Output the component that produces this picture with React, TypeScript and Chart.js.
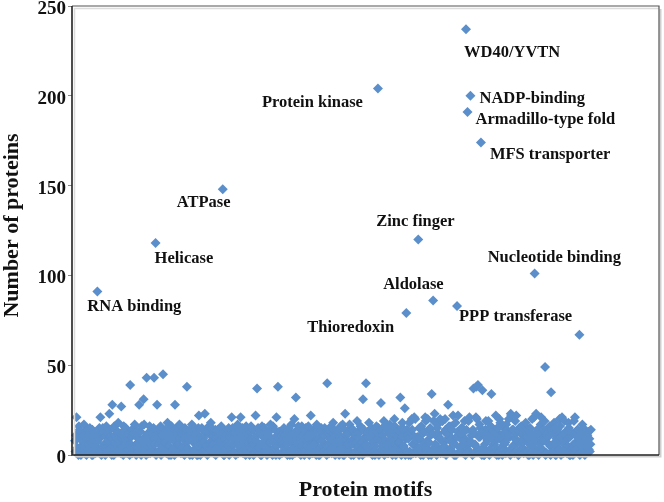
import { useEffect, useRef } from 'react';
import { Chart, registerables } from 'chart.js';

Chart.register(...registerables);

// Number of proteins per protein motif. Motifs are stored in three interleaved
// groups: motif order is A[0], B[0], C[0], A[1], B[1], C[1], ...
const motifCountsA: number[] = [
  8, 21, 3, 14, 0, 10, 17, 5, 12, 2, 15, 7, 0, 11, 4, 91, 9, 21, 1, 13,
  6, 16, 3, 23, 10, 28, 0, 14, 8, 18, 2, 27, 11, 5, 15, 1, 9, 39, 4, 12,
  17, 0, 7, 28, 13, 3, 31, 10, 43, 1, 16, 6, 12, 43, 118, 28, 2, 14, 8, 45,
  4, 11, 18, 0, 9, 15, 3, 28, 12, 6, 17, 1, 10, 14, 5, 38, 8, 0, 13, 16,
  3, 11, 7, 22, 0, 15, 9, 23, 2, 13, 6, 18, 10, 1, 14, 4, 12, 8, 16, 148,
  0, 11, 5, 15, 3, 21, 9, 13, 1, 17, 7, 21, 2, 10, 14, 4, 12, 0, 16, 8,
  6, 22, 37, 3, 13, 0, 10, 15, 5, 12, 1, 17, 8, 3, 14, 21, 38, 0, 11, 6,
  15, 2, 9, 13, 0, 17, 7, 20, 32, 4, 12, 1, 16, 8, 3, 14, 10, 0, 22, 6,
  13, 2, 17, 9, 0, 15, 5, 11, 3, 40, 14, 7, 1, 18, 10, 4, 13, 0, 16, 8,
  3, 23, 11, 6, 17, 0, 14, 9, 2, 19, 12, 5, 15, 31, 1, 40, 10, 18, 4, 13,
  7, 0, 16, 204, 11, 29, 3, 19, 8, 14, 1, 17, 10, 5, 20, 0, 13, 7, 32, 15,
  3, 26, 79, 11, 18, 0, 14, 6, 20, 9, 120, 2, 16, 12, 4, 19, 8, 0, 15, 34,
  86, 23, 5, 17, 10, 1, 19, 7, 20, 13, 28, 3, 16, 9, 0, 18, 83, 11, 4, 15,
  8, 19, 237, 191, 2, 200, 13, 37, 6, 38, 39, 17, 174, 36, 0, 14, 9, 19, 3, 34,
  11, 6, 22, 15, 0, 18, 8, 12, 3, 17, 10, 1, 23, 14, 5, 19, 7, 0, 13, 16,
  4, 11, 18, 2, 9, 15, 6, 0, 101, 23, 12, 3, 17, 8, 14, 49, 1, 10, 16, 35,
  5, 18, 0, 13, 7, 16, 2, 11, 19, 4, 9, 15, 0, 12, 6, 21, 3, 14, 67, 8,
  17, 1, 10, 5, 13, 2,
];

const motifCountsB: number[] = [
  2, 9, 0, 13, 5, 11, 1, 7, 14, 3, 10, 0, 6, 12, 4, 8, 15, 1, 11, 5,
  0, 13, 7, 3, 10, 1, 16, 6, 9, 2, 12, 4, 0, 14, 8, 3, 11, 6, 1, 15,
  5, 10, 2, 13, 0, 8, 17, 4, 11, 7, 1, 14, 3, 9, 0, 12, 6, 16, 2, 10,
  7, 1, 13, 5, 0, 11, 8, 3, 15, 6, 2, 12, 9, 0, 14, 4, 10, 1, 17, 7,
  3, 12, 0, 9, 6, 14, 2, 11, 5, 1, 16, 8, 4, 13, 0, 10, 7, 3, 15, 2,
  9, 4, 14, 0, 11, 6, 2, 13, 8, 1, 10, 5, 15, 3, 0, 12, 7, 4, 9, 14,
  1, 8, 11, 4, 0, 16, 6, 2, 12, 9, 3, 14, 0, 7, 10, 5, 1, 13, 8, 2,
  11, 4, 0, 15, 7, 3, 12, 1, 9, 6, 14, 0, 5, 11, 2, 8, 16, 4, 10, 1,
  6, 13, 3, 0, 10, 8, 2, 15, 5, 12, 1, 9, 4, 14, 0, 7, 11, 3, 6, 17,
  0, 9, 5, 12, 2, 8, 14, 1, 11, 4, 0, 16, 7, 3, 10, 6, 13, 2, 9, 0,
  12, 5, 1, 15, 8, 3, 11, 0, 17, 6, 2, 13, 9, 4, 16, 1, 10, 7, 3, 18,
  5, 0, 14, 9, 2, 12, 6, 21, 1, 10, 4, 15, 8, 0, 13, 3, 20, 7, 11, 2,
  19, 6, 0, 12, 9, 3, 19, 5, 14, 1, 11, 8, 2, 22, 6, 0, 13, 10, 4, 15,
  1, 9, 14, 3, 21, 7, 0, 12, 5, 20, 2, 10, 13, 4, 0, 19, 8, 11, 3, 15,
  6, 1, 13, 9, 20, 4, 0, 11, 7, 14, 2, 10, 22, 5, 1, 12, 8, 0, 15, 3,
  9, 14, 2, 7, 0, 12, 20, 4, 10, 1, 13, 6, 21, 3, 8, 0, 11, 15, 5, 2,
  12, 7, 0, 14, 3, 10, 21, 1, 8, 13, 5, 0, 11, 4, 19, 6, 2, 9, 0, 12,
  4, 8, 1, 11, 3, 6,
];

const motifCountsC: number[] = [
  11, 4, 16, 1, 8, 3, 13, 0, 6, 10, 2, 14, 9, 1, 7, 12, 3, 0, 15, 6,
  10, 2, 8, 14, 0, 5, 11, 3, 13, 7, 1, 9, 16, 2, 6, 12, 0, 10, 14, 4,
  1, 13, 9, 5, 16, 2, 7, 0, 12, 4, 10, 3, 15, 6, 1, 9, 13, 0, 11, 5,
  14, 8, 2, 10, 16, 3, 0, 12, 6, 9, 13, 4, 1, 15, 7, 11, 2, 14, 0, 9,
  12, 0, 15, 4, 10, 2, 7, 13, 0, 16, 3, 11, 6, 1, 9, 14, 2, 12, 5, 0,
  13, 7, 1, 10, 4, 15, 12, 0, 6, 14, 3, 11, 1, 8, 16, 2, 9, 13, 3, 0,
  10, 3, 15, 12, 6, 1, 13, 9, 0, 11, 7, 2, 16, 4, 0, 10, 13, 6, 1, 14,
  5, 12, 14, 1, 10, 0, 4, 13, 6, 16, 2, 9, 11, 0, 15, 5, 1, 12, 3, 14,
  10, 0, 8, 15, 4, 12, 11, 6, 0, 2, 9, 16, 12, 1, 7, 13, 3, 15, 10, 0,
  14, 4, 12, 1, 15, 6, 0, 11, 7, 13, 9, 3, 0, 14, 5, 12, 2, 10, 15, 4,
  2, 13, 9, 0, 14, 11, 5, 16, 3, 1, 12, 8, 0, 15, 6, 11, 4, 13, 0, 10,
  14, 9, 2, 0, 13, 20, 1, 10, 8, 3, 15, 0, 12, 6, 21, 4, 1, 14, 0, 12,
  4, 11, 15, 2, 20, 8, 1, 13, 0, 9, 16, 3, 14, 7, 0, 10, 22, 2, 12, 6,
  13, 0, 5, 19, 8, 11, 14, 1, 21, 3, 10, 15, 0, 12, 6, 2, 14, 0, 16, 9,
  13, 4, 0, 15, 2, 11, 16, 6, 1, 12, 20, 0, 3, 14, 9, 22, 2, 15, 6, 11,
  1, 16, 10, 0, 13, 5, 2, 21, 8, 14, 0, 11, 3, 9, 19, 1, 12, 6, 0, 14,
  2, 15, 9, 4, 20, 0, 11, 6, 13, 1, 18, 10, 3, 0, 12, 7, 14, 1, 11, 5,
  15, 0, 12, 6, 9, 14,
];

// Named motifs: index into motifCountsA
const labeledIndices: number[] = [15, 54, 99, 203, 262, 265, 263, 272, 230, 240, 222, 256, 308];
const labeledNames: string[] = [
  'RNA binding', 'Helicase', 'ATPase', 'Protein kinase', 'WD40/YVTN', 'NADP-binding',
  'Armadillo-type fold', 'MFS transporter', 'Zinc finger', 'Aldolase', 'Thioredoxin',
  'PPP transferase', 'Nucleotide binding',
];
// Label placement relative to its point (pixels)
const labelDx: number[] = [-10, -1, -46, -116, -2, 9, 8, 9, -42, -50, -99, 2, -47];
const labelDy: number[] = [15, 16, 14, 14, 23, 3, 8, 12, -18, -16, 15, 11, -16];

const yTicks: number[] = [0, 50, 100, 150, 200, 250];
const xTitle = 'Protein motifs';
const yTitle = 'Number of proteins';

const SERIF = '"Liberation Serif", "Times New Roman", serif';
const BLUE = '#5B8FCB';

export default function App() {
  const ref = useRef<HTMLCanvasElement | null>(null);

  useEffect(() => {
    if (!ref.current) return;

    const groups = [motifCountsA, motifCountsB, motifCountsC];
    const points: { x: number; y: number }[] = [];
    motifCountsA.forEach((_, i) => {
      groups.forEach((g, k) => {
        points.push({ x: i * 3 + k, y: g[i] });
      });
    });

    const decorPlugin = {
      id: 'decor',
      afterDatasetsDraw(chart: any) {
        const { ctx, chartArea } = chart;
        const { left, top, right, bottom } = chartArea;
        ctx.save();
        // shadow
        ctx.strokeStyle = '#cfcfcf';
        ctx.lineWidth = 2;
        ctx.beginPath();
        ctx.moveTo(right + 1.5, top + 3);
        ctx.lineTo(right + 1.5, bottom + 1.5);
        ctx.lineTo(left + 3, bottom + 1.5);
        ctx.stroke();
        ctx.beginPath();
        ctx.moveTo(left + 2.5, bottom);
        ctx.lineTo(left + 2.5, top + 2.5);
        ctx.lineTo(right, top + 2.5);
        ctx.strokeStyle = '#dcdcdc';
        ctx.lineWidth = 1.5;
        ctx.stroke();
        // frame
        ctx.lineWidth = 1.2;
        ctx.strokeStyle = '#555';
        ctx.beginPath();
        ctx.moveTo(left, top);
        ctx.lineTo(right, top);
        ctx.lineTo(right, bottom);
        ctx.stroke();
        ctx.lineWidth = 1.6;
        ctx.strokeStyle = '#222';
        ctx.beginPath();
        ctx.moveTo(left, top);
        ctx.lineTo(left, bottom);
        ctx.lineTo(right, bottom);
        ctx.stroke();

        // motif labels
        const meta = chart.getDatasetMeta(0);
        ctx.fillStyle = '#111';
        ctx.font = `bold 16.5px ${SERIF}`;
        ctx.textAlign = 'left';
        ctx.textBaseline = 'middle';
        labeledIndices.forEach((idx, k) => {
          const pt = meta.data[idx * 3];
          if (!pt) return;
          ctx.fillText(labeledNames[k], pt.x + labelDx[k], pt.y + labelDy[k]);
        });

        // axis titles
        ctx.font = `bold 22px ${SERIF}`;
        ctx.textAlign = 'center';
        ctx.textBaseline = 'middle';
        ctx.fillText(xTitle, (left + right) / 2, 490);
        ctx.save();
        ctx.translate(12, (top + bottom) / 2 - 5);
        ctx.rotate(-Math.PI / 2);
        ctx.fillText(yTitle, 0, 0);
        ctx.restore();
        ctx.restore();
      },
    };

    const chart = new Chart(ref.current, {
      type: 'scatter',
      data: {
        datasets: [
          {
            data: points,
            pointStyle: 'rectRot',
            pointRadius: 5,
            pointBorderWidth: 0,
            backgroundColor: BLUE,
            borderColor: BLUE,
            clip: false as any,
          },
        ],
      },
      options: {
        animation: false,
        responsive: false,
        layout: { padding: { left: 0, top: 6, right: 2, bottom: 0 } },
        plugins: { legend: { display: false }, tooltip: { enabled: false } },
        scales: {
          x: {
            type: 'linear',
            min: -6,
            max: 1174,
            grid: { display: false },
            border: { display: false },
            ticks: { display: false },
            afterFit: (s: any) => {
              s.height = 47;
              s.paddingLeft = 0;
              s.paddingRight = 0;
            },
          },
          y: {
            min: 0,
            max: 250,
            afterBuildTicks: (s: any) => { s.ticks = yTicks.map((v) => ({ value: v })); },
            grid: { display: true, drawOnChartArea: false, drawTicks: true, tickLength: 4, color: '#888' },
            border: { display: false },
            ticks: {
              padding: 2,
              labelOffset: 3,
              color: '#111',
              font: { family: SERIF, size: 19, weight: 'bold' },
            },
            afterFit: (s: any) => {
              s.width = 72;
              s.paddingTop = 0;
              s.paddingBottom = 0;
            },
          },
        },
      },
      plugins: [decorPlugin],
    } as any);

    return () => chart.destroy();
  }, []);

  return (
    <div style={{ position: 'absolute', left: 0, top: 0, width: 664, height: 502, background: '#fff' }}>
      <canvas ref={ref} width={664} height={502} style={{ display: 'block' }} />
    </div>
  );
}
